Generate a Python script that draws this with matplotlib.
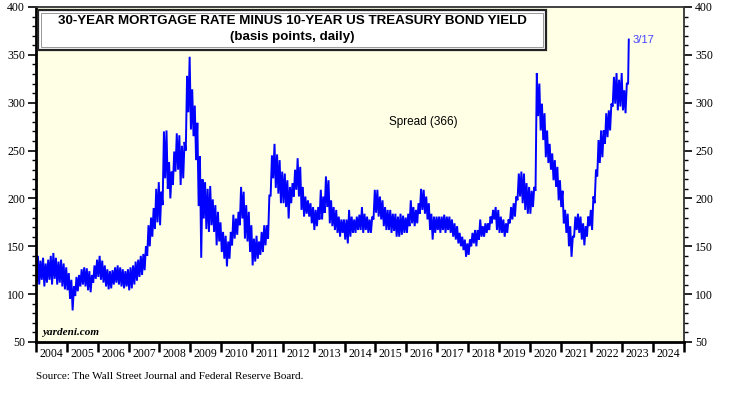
import matplotlib.pyplot as plt
from matplotlib.patches import Rectangle
from matplotlib.ticker import MultipleLocator, FixedLocator
import numpy as np

# monthly high / low of the daily spread (basis points), Jan 2004 .. Mar 2023
years = list(range(2004, 2024))
spread_hi = [
    [140, 135, 138, 132, 136, 140, 143, 138, 134, 136, 132, 128],  # 2004
    [122, 115, 108, 118, 120, 126, 128, 127, 124, 120, 130, 136],  # 2005
    [140, 135, 130, 126, 124, 125, 128, 130, 128, 126, 124, 126],  # 2006
    [128, 130, 134, 136, 140, 142, 150, 172, 180, 190, 210, 217],  # 2007
    [207, 270, 271, 238, 228, 249, 268, 266, 255, 259, 328, 348],  # 2008
    [314, 297, 279, 244, 220, 217, 210, 213, 199, 193, 186, 175],  # 2009
    [165, 161, 155, 165, 183, 179, 186, 212, 207, 193, 186, 172],  # 2010
    [158, 161, 155, 165, 172, 172, 203, 245, 257, 246, 240, 228],  # 2011
    [226, 219, 212, 216, 230, 242, 233, 212, 202, 198, 195, 191],  # 2012
    [188, 191, 209, 202, 223, 219, 198, 191, 188, 181, 178, 178],  # 2013
    [178, 188, 181, 178, 181, 183, 191, 184, 181, 178, 181, 209],  # 2014
    [209, 202, 198, 191, 188, 188, 184, 184, 181, 184, 182, 180],  # 2015
    [184, 198, 191, 188, 195, 210, 209, 202, 195, 184, 181, 181],  # 2016
    [181, 181, 183, 181, 181, 178, 174, 171, 164, 160, 157, 153],  # 2017
    [157, 164, 167, 167, 178, 171, 174, 174, 181, 188, 191, 188],  # 2018
    [181, 178, 174, 178, 191, 195, 202, 226, 228, 226, 216, 212],  # 2019
    [208, 212, 331, 320, 299, 289, 271, 257, 247, 240, 233, 219],  # 2020
    [208, 188, 184, 171, 160, 181, 184, 181, 174, 171, 181, 188],  # 2021
    [202, 230, 261, 271, 271, 289, 292, 299, 327, 331, 324, 331],  # 2022
    [313, 320, 366],                                               # 2023
]
spread_lo = [
    [112, 110, 115, 108, 112, 115, 110, 116, 110, 112, 108, 105],  # 2004
    [104, 95, 83, 98, 103, 108, 110, 108, 104, 102, 112, 116],     # 2005
    [118, 115, 112, 108, 105, 106, 110, 112, 110, 108, 106, 108],  # 2006
    [104, 106, 110, 114, 118, 120, 125, 140, 150, 160, 168, 175],  # 2007
    [172, 193, 221, 210, 200, 214, 228, 230, 214, 221, 250, 290],  # 2008
    [272, 265, 240, 192, 138, 179, 168, 165, 172, 165, 151, 155],  # 2009
    [144, 137, 129, 137, 151, 158, 162, 172, 179, 158, 155, 144],  # 2010
    [130, 134, 137, 141, 144, 151, 158, 203, 221, 211, 205, 195],  # 2011
    [195, 191, 179, 195, 202, 209, 202, 188, 181, 184, 181, 174],  # 2012
    [167, 171, 178, 178, 185, 191, 174, 171, 167, 164, 160, 164],  # 2013
    [157, 153, 160, 164, 164, 167, 167, 164, 167, 164, 164, 178],  # 2014
    [185, 181, 178, 171, 167, 167, 164, 166, 160, 160, 162, 164],  # 2015
    [164, 171, 174, 171, 174, 184, 188, 184, 178, 167, 157, 164],  # 2016
    [167, 164, 167, 164, 167, 164, 160, 157, 153, 150, 146, 139],  # 2017
    [141, 150, 153, 150, 157, 160, 160, 164, 167, 174, 178, 167],  # 2018
    [164, 164, 160, 164, 174, 178, 181, 198, 202, 195, 188, 184],  # 2019
    [184, 191, 208, 286, 271, 261, 243, 237, 230, 219, 212, 198],  # 2020
    [191, 174, 164, 150, 139, 160, 167, 164, 157, 151, 160, 171],  # 2021
    [167, 195, 223, 237, 243, 257, 264, 271, 296, 299, 292, 296],  # 2022
    [292, 289, 320],                                               # 2023
]
last_label = "3/17"
last_value = 366

# interleave low/high inside each month to get the daily-noise look
xs, ys = [], []
for yr, his, los in zip(years, spread_hi, spread_lo):
    for m, (h, l) in enumerate(zip(his, los)):
        t0 = yr + m / 12.0
        xs += [t0 + 0.25 / 12, t0 + 0.75 / 12]
        ys += [l, h]
xs[-1] = 2023 + (2 + 16 / 31) / 12  # March 17

plt.rcParams["font.family"] = ["Liberation Serif", "DejaVu Serif"]

fig = plt.figure(figsize=(7.33, 3.93), dpi=100)
ax = fig.add_axes([0.0491, 0.1298, 0.8841, 0.8524])
ax.set_facecolor("#FFFFE6")

ax.plot(xs, ys, color="#0000FF", lw=1.4, solid_joinstyle="miter")

ax.set_xlim(2004, 2025)
ax.set_ylim(50, 400)

ax.yaxis.set_major_locator(MultipleLocator(50))
ax.yaxis.set_minor_locator(MultipleLocator(10))
ax.tick_params(axis="y", which="both", direction="out", left=True, right=True,
               labelleft=True, labelright=True, labelsize=8.5, pad=2)
ax.tick_params(axis="y", which="major", length=6, width=1.2)
ax.tick_params(axis="y", which="minor", length=3, width=1.0)

ax.xaxis.set_major_locator(FixedLocator(range(2004, 2026)))
ax.xaxis.set_minor_locator(FixedLocator([y + 0.5 for y in range(2004, 2025)]))
ax.xaxis.set_major_formatter(plt.NullFormatter())
ax.xaxis.set_minor_formatter(plt.FixedFormatter([str(y) for y in range(2004, 2025)]))
ax.tick_params(axis="x", which="major", direction="out", length=7, width=1.8)
ax.tick_params(axis="x", which="minor", length=0, labelsize=8.5, pad=4)

for side in ["left", "bottom"]:
    ax.spines[side].set_linewidth(2.0)
for side in ["top", "right"]:
    ax.spines[side].set_linewidth(1.3)
    ax.spines[side].set_color("#333333")

# title box
ax.add_patch(Rectangle((0.003, 0.872), 0.784, 0.119, transform=ax.transAxes,
                       facecolor="white", edgecolor="#222222", lw=1.6, zorder=5))
ax.add_patch(Rectangle((0.008, 0.880), 0.774, 0.103, transform=ax.transAxes,
                       facecolor="none", edgecolor="#888888", lw=0.6, zorder=5))
ax.text(0.395, 0.958, "30-YEAR MORTGAGE RATE MINUS 10-YEAR US TREASURY BOND YIELD",
        transform=ax.transAxes, ha="center", va="center", fontsize=9.6,
        fontweight="bold", family="Liberation Sans", zorder=6)
ax.text(0.395, 0.911, "(basis points, daily)", transform=ax.transAxes,
        ha="center", va="center", fontsize=9.6, fontweight="bold",
        family="Liberation Sans", zorder=6)

ax.text(0.597, 0.657, "Spread (%d)" % last_value, transform=ax.transAxes,
        ha="center", va="center", fontsize=8.5, family="Liberation Sans")
ax.annotate(last_label, (xs[-1], last_value), xytext=(3, 0),
            textcoords="offset points", ha="left", va="center",
            fontsize=8, color="#4444FF", family="Liberation Sans")

ax.text(0.009, 0.027, "yardeni.com", transform=ax.transAxes, ha="left",
        va="center", fontsize=8, fontweight="bold", style="italic")

fig.text(0.049, 0.041, "Source: The Wall Street Journal and Federal Reserve Board.",
         ha="left", va="center", fontsize=8)

fig.savefig("out.png", dpi=100)
